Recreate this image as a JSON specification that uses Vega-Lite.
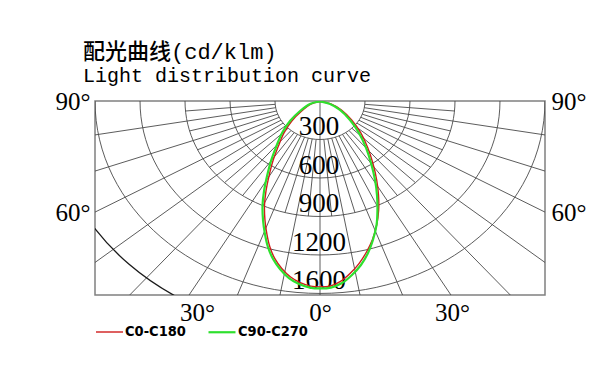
{
  "$schema": "https://vega.github.io/schema/vega-lite/v6.json",
  "width": 450,
  "height": 194,
  "autosize": {"type": "none"},
  "padding": {"left": 95, "top": 101, "right": 58, "bottom": 74},
  "background": "white",
  "config": {"view": {"stroke": "#808080", "strokeWidth": 1.5}},
  "title": {
    "text": "配光曲线(cd/klm)",
    "subtitle": "Light distribution curve",
    "anchor": "start",
    "frame": "group",
    "dx": -12,
    "offset": 2,
    "font": "Liberation Mono, Noto Sans CJK SC",
    "fontSize": 22,
    "fontWeight": 500,
    "color": "#000000",
    "subtitleFont": "Liberation Mono",
    "subtitleFontSize": 20,
    "subtitleFontWeight": "normal",
    "subtitleColor": "#000000",
    "subtitlePadding": 2
  },
  "datasets": {
    "rays": [
      {"x": 0, "y": 0, "x2": 0, "y2": 3000},
      {"x": -52, "y": 295, "x2": -521, "y2": 2954}, {"x": 52, "y": 295, "x2": 521, "y2": 2954},
      {"x": -103, "y": 282, "x2": -1026, "y2": 2819}, {"x": 103, "y": 282, "x2": 1026, "y2": 2819},
      {"x": -150, "y": 260, "x2": -1500, "y2": 2598}, {"x": 150, "y": 260, "x2": 1500, "y2": 2598},
      {"x": -193, "y": 230, "x2": -1928, "y2": 2298}, {"x": 193, "y": 230, "x2": 1928, "y2": 2298},
      {"x": -230, "y": 193, "x2": -2298, "y2": 1928}, {"x": 230, "y": 193, "x2": 2298, "y2": 1928},
      {"x": -260, "y": 150, "x2": -2598, "y2": 1500}, {"x": 260, "y": 150, "x2": 2598, "y2": 1500},
      {"x": -282, "y": 103, "x2": -2819, "y2": 1026}, {"x": 282, "y": 103, "x2": 2819, "y2": 1026},
      {"x": -295, "y": 52, "x2": -2954, "y2": 521}, {"x": 295, "y": 52, "x2": 2954, "y2": 521},
      {"x": -26, "y": 299, "x2": -78, "y2": 897}, {"x": 26, "y": 299, "x2": 78, "y2": 897},
      {"x": -78, "y": 290, "x2": -233, "y2": 869}, {"x": 78, "y": 290, "x2": 233, "y2": 869},
      {"x": -127, "y": 272, "x2": -380, "y2": 816}, {"x": 127, "y": 272, "x2": 380, "y2": 816},
      {"x": -172, "y": 246, "x2": -516, "y2": 737}, {"x": 172, "y": 246, "x2": 516, "y2": 737},
      {"x": -212, "y": 212, "x2": -636, "y2": 636}, {"x": 212, "y": 212, "x2": 636, "y2": 636},
      {"x": -246, "y": 172, "x2": -737, "y2": 516}, {"x": 246, "y": 172, "x2": 737, "y2": 516},
      {"x": -272, "y": 127, "x2": -816, "y2": 380}, {"x": 272, "y": 127, "x2": 816, "y2": 380},
      {"x": -290, "y": 78, "x2": -869, "y2": 233}, {"x": 290, "y": 78, "x2": 869, "y2": 233},
      {"x": -299, "y": 26, "x2": -897, "y2": 78}, {"x": 299, "y": 26, "x2": 897, "y2": 78}
    ],
    "rings": [{"r": 300}, {"r": 600}, {"r": 900}, {"r": 1200}, {"r": 1500}],
    "outer": [{"r": 1800}],
    "labels": [
      {"r": 300, "label": "300"}, {"r": 600, "label": "600"}, {"r": 900, "label": "900"},
      {"r": 1200, "label": "1200"}, {"r": 1500, "label": "1600"}
    ],
    "curves": [
      {"series": "C0-C180", "i": 0, "x": 0, "y": 4},
      {"series": "C0-C180", "i": 1, "x": -58, "y": 23},
      {"series": "C0-C180", "i": 2, "x": -122, "y": 78},
      {"series": "C0-C180", "i": 3, "x": -188, "y": 156},
      {"series": "C0-C180", "i": 4, "x": -240, "y": 249},
      {"series": "C0-C180", "i": 5, "x": -280, "y": 359},
      {"series": "C0-C180", "i": 6, "x": -314, "y": 468},
      {"series": "C0-C180", "i": 7, "x": -340, "y": 585},
      {"series": "C0-C180", "i": 8, "x": -360, "y": 701},
      {"series": "C0-C180", "i": 9, "x": -370, "y": 811},
      {"series": "C0-C180", "i": 10, "x": -367, "y": 927},
      {"series": "C0-C180", "i": 11, "x": -354, "y": 1037},
      {"series": "C0-C180", "i": 12, "x": -334, "y": 1138},
      {"series": "C0-C180", "i": 13, "x": -300, "y": 1231},
      {"series": "C0-C180", "i": 14, "x": -255, "y": 1305},
      {"series": "C0-C180", "i": 15, "x": -196, "y": 1372},
      {"series": "C0-C180", "i": 16, "x": -132, "y": 1416},
      {"series": "C0-C180", "i": 17, "x": -62, "y": 1443},
      {"series": "C0-C180", "i": 18, "x": 0, "y": 1449},
      {"series": "C0-C180", "i": 19, "x": 68, "y": 1442},
      {"series": "C0-C180", "i": 20, "x": 137, "y": 1406},
      {"series": "C0-C180", "i": 21, "x": 200, "y": 1345},
      {"series": "C0-C180", "i": 22, "x": 260, "y": 1267},
      {"series": "C0-C180", "i": 23, "x": 310, "y": 1177},
      {"series": "C0-C180", "i": 24, "x": 350, "y": 1080},
      {"series": "C0-C180", "i": 25, "x": 378, "y": 966},
      {"series": "C0-C180", "i": 26, "x": 391, "y": 850},
      {"series": "C0-C180", "i": 27, "x": 390, "y": 733},
      {"series": "C0-C180", "i": 28, "x": 378, "y": 616},
      {"series": "C0-C180", "i": 29, "x": 352, "y": 483},
      {"series": "C0-C180", "i": 30, "x": 319, "y": 366},
      {"series": "C0-C180", "i": 31, "x": 272, "y": 249},
      {"series": "C0-C180", "i": 32, "x": 211, "y": 148},
      {"series": "C0-C180", "i": 33, "x": 143, "y": 70},
      {"series": "C0-C180", "i": 34, "x": 72, "y": 23},
      {"series": "C0-C180", "i": 35, "x": 0, "y": 4},
      {"series": "C90-C270", "i": 0, "x": 0, "y": 4},
      {"series": "C90-C270", "i": 1, "x": -67, "y": 23},
      {"series": "C90-C270", "i": 2, "x": -133, "y": 78},
      {"series": "C90-C270", "i": 3, "x": -200, "y": 156},
      {"series": "C90-C270", "i": 4, "x": -253, "y": 249},
      {"series": "C90-C270", "i": 5, "x": -293, "y": 359},
      {"series": "C90-C270", "i": 6, "x": -327, "y": 468},
      {"series": "C90-C270", "i": 7, "x": -353, "y": 585},
      {"series": "C90-C270", "i": 8, "x": -373, "y": 701},
      {"series": "C90-C270", "i": 9, "x": -383, "y": 811},
      {"series": "C90-C270", "i": 10, "x": -380, "y": 927},
      {"series": "C90-C270", "i": 11, "x": -367, "y": 1037},
      {"series": "C90-C270", "i": 12, "x": -347, "y": 1138},
      {"series": "C90-C270", "i": 13, "x": -313, "y": 1231},
      {"series": "C90-C270", "i": 14, "x": -267, "y": 1309},
      {"series": "C90-C270", "i": 15, "x": -207, "y": 1380},
      {"series": "C90-C270", "i": 16, "x": -140, "y": 1426},
      {"series": "C90-C270", "i": 17, "x": -67, "y": 1454},
      {"series": "C90-C270", "i": 18, "x": 0, "y": 1461},
      {"series": "C90-C270", "i": 19, "x": 73, "y": 1454},
      {"series": "C90-C270", "i": 20, "x": 147, "y": 1419},
      {"series": "C90-C270", "i": 21, "x": 213, "y": 1356},
      {"series": "C90-C270", "i": 22, "x": 273, "y": 1278},
      {"series": "C90-C270", "i": 23, "x": 320, "y": 1185},
      {"series": "C90-C270", "i": 24, "x": 353, "y": 1083},
      {"series": "C90-C270", "i": 25, "x": 377, "y": 966},
      {"series": "C90-C270", "i": 26, "x": 383, "y": 850},
      {"series": "C90-C270", "i": 27, "x": 380, "y": 733},
      {"series": "C90-C270", "i": 28, "x": 367, "y": 616},
      {"series": "C90-C270", "i": 29, "x": 340, "y": 483},
      {"series": "C90-C270", "i": 30, "x": 307, "y": 366},
      {"series": "C90-C270", "i": 31, "x": 260, "y": 249},
      {"series": "C90-C270", "i": 32, "x": 200, "y": 148},
      {"series": "C90-C270", "i": 33, "x": 133, "y": 70},
      {"series": "C90-C270", "i": 34, "x": 67, "y": 23},
      {"series": "C90-C270", "i": 35, "x": 0, "y": 4}
    ]
  },
  "resolve": {"axis": {"x": "independent", "y": "independent"}},
  "layer": [
    {
      "data": {"name": "rays"},
      "mark": {"type": "rule", "clip": true, "stroke": "#4a4a4a", "strokeWidth": 0.9},
      "encoding": {
        "x": {
          "field": "x", "type": "quantitative",
          "scale": {"domain": [-1500, 1500], "nice": false, "zero": false},
          "axis": {
            "orient": "bottom",
            "values": [-820, 0, 880],
            "labelExpr": "datum.value == 0 ? '0°' : '30°'",
            "domain": false, "ticks": false, "tickSize": 0, "grid": false, "title": null,
            "labelFont": "Liberation Serif", "labelFontSize": 25, "labelFontWeight": "normal", "labelColor": "#000000",
            "labelPadding": 5, "labelFlush": false, "labelOverlap": false
          }
        },
        "y": {
          "field": "y", "type": "quantitative",
          "scale": {"domain": [0, 1512], "reverse": true, "nice": false, "zero": false},
          "axis": {
            "orient": "left",
            "values": [0, 866],
            "labelExpr": "datum.value == 0 ? '90°' : '60°'",
            "domain": false, "ticks": false, "tickSize": 0, "grid": false, "title": null,
            "labelFont": "Liberation Serif", "labelFontSize": 25, "labelFontWeight": "normal", "labelColor": "#000000",
            "labelPadding": 5, "labelBaseline": "middle", "labelFlush": false, "labelOverlap": false
          }
        },
        "x2": {"field": "x2"},
        "y2": {"field": "y2"}
      }
    },
    {
      "data": {"name": "rings"},
      "mark": {
        "type": "point", "clip": true, "filled": false, "opacity": 1,
        "stroke": "#4a4a4a", "strokeWidth": 0.9,
        "shape": "M-1.169,0A1.169,1,0,1,0,1.169,0A1.169,1,0,1,0,-1.169,0Z"
      },
      "encoding": {
        "x": {"datum": 0, "type": "quantitative", "axis": null},
        "y": {"datum": 0, "type": "quantitative", "axis": null},
        "size": {
          "field": "r", "type": "quantitative",
          "scale": {"type": "pow", "exponent": 2, "domain": [0, 1500], "range": [0, 148150]},
          "legend": null
        }
      }
    },
    {
      "data": {"name": "outer"},
      "mark": {
        "type": "point", "clip": true, "filled": false, "opacity": 1,
        "stroke": "#1a1a1a", "strokeWidth": 1.3,
        "shape": "M-1.169,0A1.169,1,0,0,0,0,1"
      },
      "encoding": {
        "x": {"datum": 0, "type": "quantitative", "axis": null},
        "y": {"datum": 0, "type": "quantitative", "axis": null},
        "size": {
          "field": "r", "type": "quantitative",
          "scale": {"type": "pow", "exponent": 2, "domain": [0, 1500], "range": [0, 148150]},
          "legend": null
        }
      }
    },
    {
      "data": {"name": "labels"},
      "mark": {
        "type": "text", "font": "Liberation Serif", "fontSize": 27, "fontWeight": 500, "color": "#000000",
        "align": "center", "baseline": "alphabetic", "dy": -4, "dx": -1
      },
      "encoding": {
        "x": {"datum": 0, "type": "quantitative", "axis": null},
        "y": {"field": "r", "type": "quantitative", "axis": null},
        "text": {"field": "label"}
      }
    },
    {
      "data": {"name": "curves"},
      "mark": {"type": "line", "interpolate": "catmull-rom", "clip": true},
      "encoding": {
        "x": {"field": "x", "type": "quantitative", "axis": null},
        "y": {
          "field": "y", "type": "quantitative",
          "axis": {
            "orient": "right",
            "values": [0, 866],
            "labelExpr": "datum.value == 0 ? '90°' : '60°'",
            "domain": false, "ticks": false, "tickSize": 0, "grid": false, "title": null,
            "labelFont": "Liberation Serif", "labelFontSize": 25, "labelFontWeight": "normal", "labelColor": "#000000",
            "labelPadding": 6, "labelBaseline": "middle", "labelFlush": false, "labelOverlap": false
          }
        },
        "order": {"field": "i", "type": "quantitative"},
        "color": {
          "field": "series", "type": "nominal",
          "scale": {"domain": ["C0-C180", "C90-C270"], "range": ["#d01c1c", "#2ee02e"]},
          "legend": {
            "orient": "none", "legendX": 0, "legendY": 216, "direction": "horizontal",
            "title": null, "symbolType": "stroke", "symbolSize": 729, "symbolStrokeWidth": 2.5,
            "labelFont": "DejaVu Sans Condensed", "labelFontWeight": "bold", "labelFontSize": 14.5,
            "labelColor": "#000000", "labelOffset": 1, "columnPadding": 18, "padding": 0
          }
        },
        "strokeWidth": {
          "field": "series", "type": "ordinal",
          "scale": {"domain": ["C0-C180", "C90-C270"], "range": [1.4, 2.2]},
          "legend": null
        }
      }
    }
  ]
}
